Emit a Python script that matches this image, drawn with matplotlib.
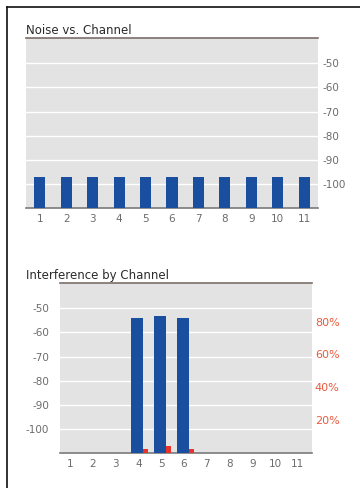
import matplotlib.pyplot as plt
import numpy as np
from matplotlib.lines import Line2D

plt.rcParams['font.family'] = 'DejaVu Sans'
plt.rcParams['axes.unicode_minus'] = False

# channel data
channels = list(range(1, 12))
noise_dbm = [-97] * 11
interf_dbm = [None, None, None, -54, -53, -54, None, None, None, None, None]
interf_pct = [0, 0, 0, 2.4, 4.4, 2.4, 0, 0, 0, 0, 0]
db_ticks = [-50, -60, -70, -80, -90, -100]
pct_ticks = [20, 40, 60, 80]

blue = '#1a4fa0'
red = '#e8332a'
bg = '#e3e3e3'
tick_gray = '#6b6b6b'

fig = plt.figure(figsize=(3.6, 4.88), dpi=100)

# outer frame: top and left edge only
fig.add_artist(Line2D([7 / 360, 7 / 360], [0, 1 - 7 / 488], transform=fig.transFigure, color='#111111', lw=1.2))
fig.add_artist(Line2D([7 / 360, 1], [1 - 7 / 488, 1 - 7 / 488], transform=fig.transFigure, color='#111111', lw=1.2))


def style_axes(ax):
    ax.set_facecolor(bg)
    for s in ['left', 'right']:
        ax.spines[s].set_visible(False)
    ax.spines['top'].set_color('#7a6f6a')
    ax.spines['top'].set_linewidth(1.2)
    ax.spines['bottom'].set_color('#7a7a7a')
    ax.spines['bottom'].set_linewidth(1.2)
    ax.set_ylim(-110, -39.5)
    ax.set_yticks(db_ticks)
    ax.set_yticklabels([str(t) for t in db_ticks])
    ax.yaxis.grid(True, color='white', linewidth=1.0)
    ax.set_axisbelow(True)
    ax.set_xticks(channels)
    ax.tick_params(axis='both', length=0, labelsize=7.5, colors=tick_gray, pad=4)


# --- Noise vs. Channel ---
ax1 = fig.add_axes([26 / 360, 1 - 208 / 488, 292 / 360, 170 / 488])
style_axes(ax1)
ax1.set_xlim(0.48, 11.52)
ax1.bar(channels, np.array(noise_dbm) + 110, bottom=-110, width=0.42, color=blue, zorder=3)
ax1.yaxis.tick_right()
ax1.tick_params(axis='y', pad=3)
fig.text(26 / 360, 1 - 30 / 488, 'Noise vs. Channel', fontsize=8.5, color='#2a2a2a', va='center', ha='left')

# --- Interference by Channel ---
ax2 = fig.add_axes([60 / 360, 1 - 453 / 488, 252 / 360, 170 / 488])
style_axes(ax2)
ax2.set_xlim(0.56, 11.62)
ch = np.array(channels)
heights = np.array([0 if v is None else v + 110 for v in interf_dbm])
ax2.bar(ch - 0.06, heights, bottom=-110, width=0.52, color=blue, zorder=3)
ax2.tick_params(axis='y', pad=8)

ax3 = ax2.twinx()
ax3.set_ylim(0, 103.5)
ax3.bar(ch + 0.31, interf_pct, width=0.22, color=red, zorder=3)
ax3.set_yticks(pct_ticks)
ax3.set_yticklabels([f'{p}%' for p in pct_ticks])
ax3.tick_params(axis='y', length=0, labelsize=8, colors='#e85a3c', pad=2)
for s in ax3.spines.values():
    s.set_visible(False)
fig.text(26 / 360, 1 - 275 / 488, 'Interference by Channel', fontsize=8.5, color='#2a2a2a', va='center', ha='left')

fig.savefig('out.png', dpi=100, facecolor='white')
